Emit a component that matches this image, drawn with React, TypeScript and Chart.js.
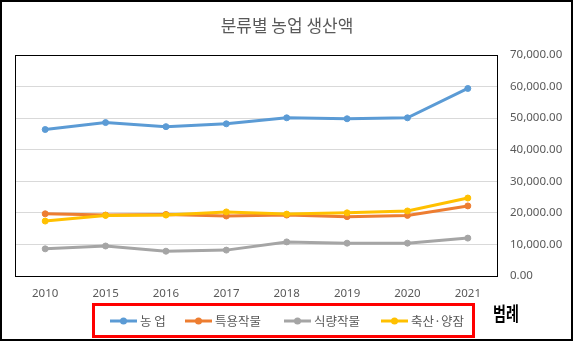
import React, { useEffect, useRef } from 'react';
import { Chart, registerables } from 'chart.js';

Chart.register(...registerables);

const chartTitle = '분류별 농업 생산액';
const legendLabel = '범례';
const categories = ['2010', '2015', '2016', '2017', '2018', '2019', '2020', '2021'];
const seriesNames = ['농 업', '특용작물', '식량작물', '축산·양잠'];
const agriculture = [46400, 48600, 47300, 48200, 50100, 49800, 50100, 59400];
const specialCrops = [19700, 19300, 19500, 19000, 19300, 18800, 19200, 22200];
const foodCrops = [8600, 9500, 7850, 8200, 10800, 10400, 10400, 12000];
const livestock = [17400, 19200, 19300, 20300, 19600, 20000, 20600, 24700];
const yMin = 0;
const yMax = 70000;
const yStep = 10000;

const colors = ['#5B9BD5', '#ED7D31', '#A5A5A5', '#FFC000'];
const seriesValues = [agriculture, specialCrops, foodCrops, livestock];
const drawOrder = [3, 2, 1, 0];

const W = 574;
const H = 352;
const CJK = '"Noto Sans CJK KR", "Noto Sans", sans-serif';
const LAT = '"Noto Sans", "Noto Sans CJK KR", sans-serif';
const TEXT_GRAY = '#595959';
const legendItemX = [110, 185, 284, 381];

const decorPlugin = {
  id: 'decor',
  beforeDatasetsDraw(chart: any) {
    const { ctx, chartArea: a } = chart;
    ctx.save();
    ctx.strokeStyle = '#000000';
    ctx.lineWidth = 1;
    ctx.strokeRect(
      Math.round(a.left) + 0.5,
      Math.round(a.top) + 0.5,
      Math.round(a.right - a.left) - 1,
      Math.round(a.bottom - a.top)
    );
    ctx.restore();
  },
  afterDraw(chart: any) {
    const { ctx } = chart;
    ctx.save();
    // title
    ctx.font = `17px ${CJK}`;
    ctx.fillStyle = TEXT_GRAY;
    ctx.textAlign = 'center';
    ctx.textBaseline = 'middle';
    ctx.fillText(chartTitle, 287, 26);

    // legend
    const ly = 321;
    ctx.font = `12.5px ${CJK}`;
    ctx.textAlign = 'left';
    chart.data.datasets.forEach((ds: any, i: number) => {
      const lx = legendItemX[i];
      const c = ds.borderColor;
      ctx.strokeStyle = c;
      ctx.fillStyle = c;
      ctx.lineWidth = 3;
      ctx.beginPath();
      ctx.moveTo(lx, ly);
      ctx.lineTo(lx + 27, ly);
      ctx.stroke();
      ctx.beginPath();
      ctx.arc(lx + 13.5, ly, 3.5, 0, Math.PI * 2);
      ctx.fill();
      ctx.fillStyle = TEXT_GRAY;
      ctx.fillText(ds.label, lx + 30, ly);
    });

    // red highlight box
    ctx.strokeStyle = '#FF0000';
    ctx.lineWidth = 3;
    ctx.strokeRect(93.5, 304.5, 380, 32);

    // annotation text
    ctx.save();
    ctx.translate(493, 314);
    ctx.scale(0.74, 1);
    ctx.font = `bold 19px ${CJK}`;
    ctx.fillStyle = '#000000';
    ctx.textAlign = 'left';
    ctx.textBaseline = 'middle';
    ctx.fillText(legendLabel, 0, 0);
    ctx.restore();

    ctx.restore();
  },
};

export default function App() {
  const canvasRef = useRef<HTMLCanvasElement | null>(null);

  useEffect(() => {
    document.body.style.margin = '0';
    const canvas = canvasRef.current;
    if (!canvas) return;
    const chart = new Chart(canvas, {
      type: 'line',
      data: {
        labels: categories,
        datasets: seriesNames.map((name, i) => ({
          label: name,
          data: seriesValues[i],
          borderColor: colors[i],
          backgroundColor: colors[i],
          pointBackgroundColor: colors[i],
          pointBorderColor: colors[i],
          borderWidth: 3,
          pointRadius: 3,
          pointBorderWidth: 1,
          tension: 0,
          fill: false,
          order: drawOrder[i],
        })),
      },
      options: {
        animation: false,
        responsive: false,
        maintainAspectRatio: false,
        layout: { padding: { left: 15, top: 55, right: 0, bottom: 0 } },
        plugins: {
          legend: { display: false },
          title: { display: false },
          tooltip: { enabled: false },
        },
        scales: {
          x: {
            offset: true,
            grid: { display: false, drawTicks: false },
            border: { display: false },
            ticks: {
              padding: 11,
              color: TEXT_GRAY,
              font: { family: LAT, size: 11.5 },
              maxRotation: 0,
              autoSkip: false,
            },
            afterFit(scale: any) {
              scale.height = 76;
            },
          },
          y: {
            position: 'right',
            min: yMin,
            max: yMax,
            grid: { color: '#D9D9D9', lineWidth: 1, drawTicks: false },
            border: { display: false },
            ticks: {
              stepSize: yStep,
              padding: 12,
              color: TEXT_GRAY,
              font: { family: LAT, size: 11.5 },
              callback: (v: any) =>
                Number(v).toLocaleString('en-US', {
                  minimumFractionDigits: 2,
                  maximumFractionDigits: 2,
                }),
            },
            afterFit(scale: any) {
              scale.width = 76;
            },
          },
        },
      },
      plugins: [decorPlugin],
    });
    return () => chart.destroy();
  }, []);

  return (
    <div style={{ position: 'relative', width: W, height: H, background: '#ffffff' }}>
      <canvas ref={canvasRef} width={W} height={H} style={{ position: 'absolute', left: 0, top: 0, width: W, height: H }} />
      <div
        style={{
          position: 'absolute',
          left: 0,
          top: 0,
          width: 573,
          height: 341,
          border: '2px solid #000000',
          boxSizing: 'border-box',
          pointerEvents: 'none',
        }}
      />
    </div>
  );
}
